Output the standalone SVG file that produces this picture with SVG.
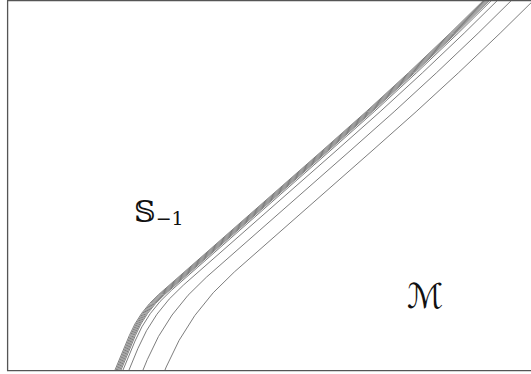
<svg xmlns="http://www.w3.org/2000/svg" width="531" height="374" viewBox="0 0 531 374">
<style>
.frame{fill:none;stroke:#555;stroke-width:1.3}
.c{fill:none;stroke:#6e6e6e;stroke-width:0.9}
.lbl{fill:#111;font-family:"DejaVu Serif","DejaVu Sans","Liberation Serif",serif}
</style>
<rect width="531" height="374" fill="#fff"/>
<g id="connectors">
<path class="c" d="M114.8,370.5 L129.3,335.6 Q139.3,311.6 158.8,294.4 L323,150 Q410,74 491,-7"/>
<path class="c" d="M116,370.5 L130.5,335.6 Q140.5,311.6 160,294.4 L324.2,150 Q411.2,74 492.2,-7"/>
<path class="c" d="M117.2,370.5 L131.7,335.6 Q141.7,311.6 161.2,294.4 L325.4,150 Q412.4,74 493.4,-7"/>
<path class="c" d="M118.4,370.5 L132.9,335.6 Q142.9,311.6 162.4,294.4 L326.6,150 Q413.6,74 494.6,-7"/>
<path class="c" d="M119.6,370.5 L134.1,335.6 Q144.1,311.6 163.6,294.4 L327.8,150 Q414.8,74 495.8,-7"/>
<path class="c" d="M120.8,370.5 L135.3,335.6 Q145.3,311.6 164.8,294.4 L329,150 Q416,74 497,-7"/>
<path class="c" d="M122.8,370.5 L135,341.1 Q147.3,311.6 171.3,290.4 L331,150 Q418,74 499,-7"/>
<path class="c" d="M128.8,370.5 L137.9,348.5 Q153.3,311.6 183.3,285.2 L337,150 Q424,74 505,-7"/>
<path class="c" d="M142.8,370.5 L147.3,359.6 Q167.3,311.6 206.4,277.2 L351,150 Q438,74 519,-7"/>
<path class="c" d="M164.8,370.5 L166.2,367 Q189.3,311.6 234.4,271.9 L373,150 Q460,74 541,-7"/>
</g>
<g id="frame">
<path class="frame" d="M531,0.6 L7.6,0.6 L7.6,370.6 L531,370.6"/>
</g>
<g id="label-S">
<text class="lbl" x="134" y="222" font-size="30">𝕊<tspan font-size="19" dy="3">−1</tspan></text>
</g>
<g id="label-M">
<text class="lbl" x="407" y="308" font-size="34">ℳ</text>
</g>
</svg>
